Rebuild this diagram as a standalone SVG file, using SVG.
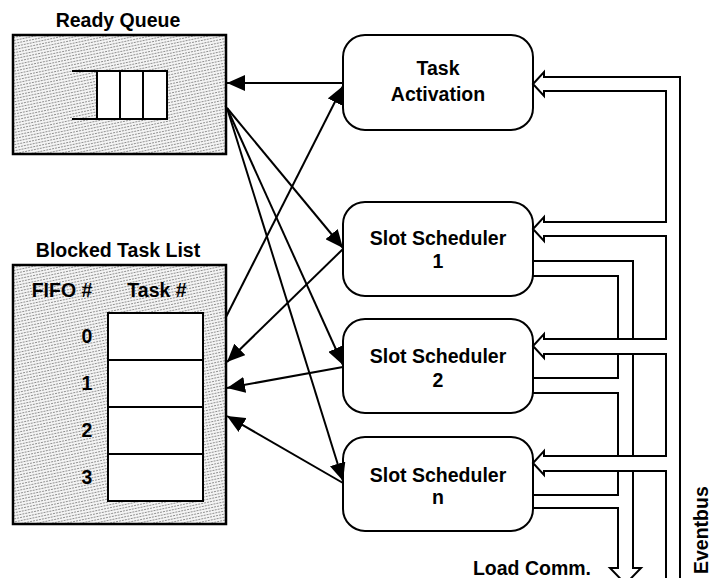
<svg xmlns="http://www.w3.org/2000/svg" width="711" height="578" viewBox="0 0 711 578">
  <style>
    .lbl { font-family: "Liberation Sans", Arial, sans-serif; font-weight: bold; font-size: 19.5px; fill: #000; }
    .mid { text-anchor: middle; }
    .frame { fill: url(#stipple); stroke: #000; stroke-width: 2.5; }
    .cell { fill: #fff; stroke: #000; stroke-width: 2; }
    .node { fill: #fff; stroke: #000; stroke-width: 2; }
    .pipe { fill: none; stroke: #000; stroke-width: 2; stroke-linejoin: miter; }
    .flow { fill: none; stroke: #000; stroke-width: 2; marker-end: url(#head); }
  </style>
  <defs>
    <pattern id="stipple" width="3" height="3" patternUnits="userSpaceOnUse" patternTransform="rotate(78)">
      <rect width="3" height="3" fill="#f4f4f4"/>
      <line x1="0.5" y1="0" x2="0.5" y2="3" stroke="#858585" stroke-width="0.9" stroke-dasharray="1 1"/>
    </pattern>
    <marker id="head" viewBox="0 0 18 16" refX="18" refY="8" markerWidth="18" markerHeight="16" markerUnits="userSpaceOnUse" orient="auto">
      <path d="M0,0 L18,8 L0,16 z" fill="#000"/>
    </marker>
  </defs>

  <!-- Ready queue -->
  <g id="ready-queue">
    <text class="lbl mid" x="118" y="27">Ready Queue</text>
    <rect class="frame" x="13" y="35" width="213" height="119"/>
    <rect x="97" y="71" width="70" height="48" fill="#fff"/>
    <path class="pipe" d="M72,71 H167 V119 H72 M97,71 V119 M120,71 V119 M143,71 V119"/>
  </g>

  <!-- Blocked task list -->
  <g id="blocked-task-list">
    <text class="lbl mid" x="118" y="257">Blocked Task List</text>
    <rect class="frame" x="13" y="265" width="213" height="259"/>
    <text class="lbl mid" x="62" y="297">FIFO #</text>
    <text class="lbl mid" x="157" y="297">Task #</text>
    <rect class="cell" x="108" y="313" width="95" height="47"/>
    <rect class="cell" x="108" y="360" width="95" height="47"/>
    <rect class="cell" x="108" y="407" width="95" height="47"/>
    <rect class="cell" x="108" y="454" width="95" height="47"/>
    <text class="lbl mid" x="87" y="343">0</text>
    <text class="lbl mid" x="87" y="390">1</text>
    <text class="lbl mid" x="87" y="437">2</text>
    <text class="lbl mid" x="87" y="484">3</text>
  </g>

  <!-- Scheduler blocks -->
  <g id="task-activation">
    <rect class="node" x="343" y="35" width="190" height="95" rx="22" ry="22"/>
    <text class="lbl mid" x="438" y="75">Task</text>
    <text class="lbl mid" x="438" y="101">Activation</text>
  </g>
  <g id="slot-scheduler-1">
    <rect class="node" x="343" y="202" width="190" height="94" rx="22" ry="22"/>
    <text class="lbl mid" x="438" y="245">Slot Scheduler</text>
    <text class="lbl mid" x="438" y="268">1</text>
  </g>
  <g id="slot-scheduler-2">
    <rect class="node" x="343" y="319" width="190" height="94" rx="22" ry="22"/>
    <text class="lbl mid" x="438" y="363">Slot Scheduler</text>
    <text class="lbl mid" x="438" y="387">2</text>
  </g>
  <g id="slot-scheduler-n">
    <rect class="node" x="343" y="437" width="190" height="94" rx="22" ry="22"/>
    <text class="lbl mid" x="438" y="482">Slot Scheduler</text>
    <text class="lbl mid" x="438" y="504">n</text>
  </g>

  <g id="connectors">
    <!-- task flow arrows -->
    <path class="flow" d="M343,83 L227,83"/>
    <path class="flow" d="M227,108 L343,248"/>
    <path class="flow" d="M227,108 L343,365"/>
    <path class="flow" d="M227,108 L343,481"/>
    <path class="flow" d="M226,317 L343,86"/>
    <path class="flow" d="M343,249 L227,362"/>
    <path class="flow" d="M343,367 L227,388"/>
    <path class="flow" d="M343,483 L227,416"/>

    <!-- load communication bus -->
    <path class="pipe" d="M533,261 H633 V568 H641 L625.5,584 L610,568 H618 V508 H533"/>
    <path class="pipe" d="M533,276 H618 V378 H533"/>
    <path class="pipe" d="M533,393 H618 V495 H533"/>

    <!-- eventbus passes over the load communication bus -->
    <rect x="605" y="340" width="45" height="13" fill="#fff"/>
    <rect x="605" y="457" width="45" height="13" fill="#fff"/>

    <!-- eventbus -->
    <path class="pipe" d="M680,578 V77 H544 V72 L533,84 L544,96 V91 H666 V222 H544 V217 L533,229 L544,241 V236 H666 V339 H544 V334 L533,346 L544,358 V354 H666 V456 H544 V451 L533,463 L544,475 V471 H666 V578"/>
  </g>

  <text class="lbl mid" x="532" y="575">Load Comm.</text>
  <text class="lbl" transform="translate(708,574) rotate(-90)">Eventbus</text>
</svg>
